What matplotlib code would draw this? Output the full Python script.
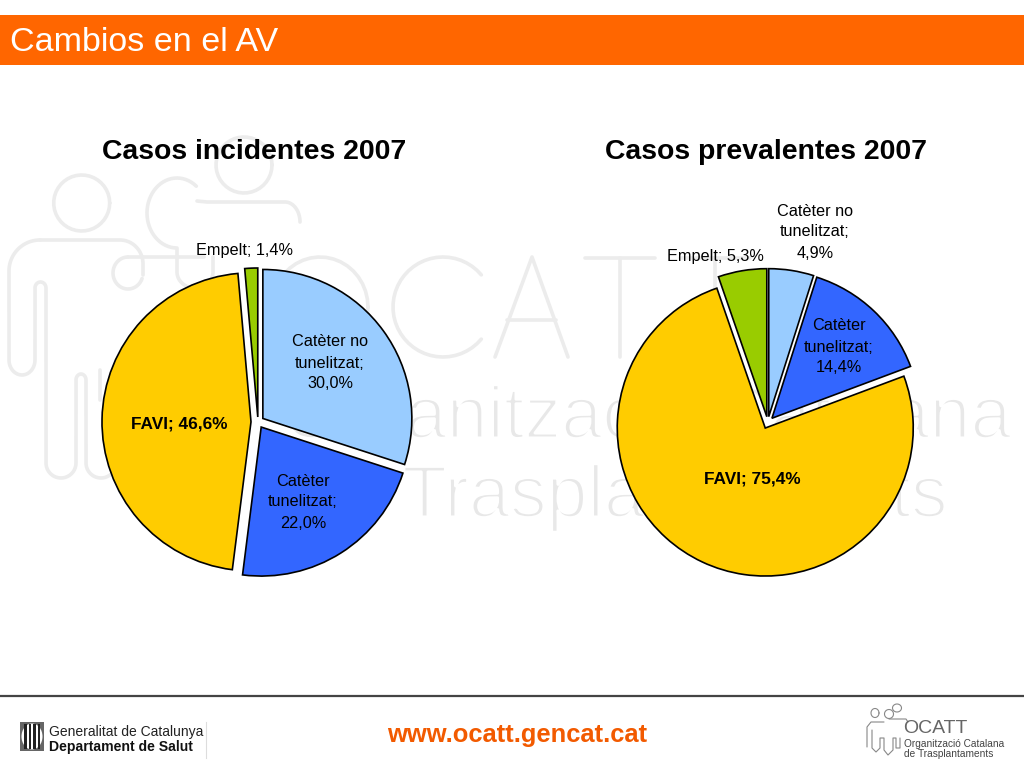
import matplotlib
matplotlib.use("Agg")
import matplotlib.pyplot as plt
from matplotlib.patches import Rectangle, Ellipse
import matplotlib.patheffects as pe
import numpy as np

plt.rcParams['font.family'] = ['Liberation Sans', 'DejaVu Sans']

# ---- data ----
categories = ["Catèter no\ntunelitzat", "Catèter\ntunelitzat", "FAVI", "Empelt"]
incidentes = [30.0, 22.0, 46.6, 1.4]
prevalentes = [4.9, 14.4, 75.4, 5.3]
title_left = "Casos incidentes 2007"
title_right = "Casos prevalentes 2007"
header = "Cambios en el AV"
url = "www.ocatt.gencat.cat"

colors = ["#99CCFF", "#3366FF", "#FFCC00", "#99CC00"]
ORANGE = "#FF6600"
WM = "#ECECEC"

fig = plt.figure(figsize=(10.24, 7.68), dpi=100, facecolor="white")
ax = fig.add_axes([0, 0, 1, 1])


def Y(y):
    return 768 - y


def fmt(v):
    return f"{v:.1f}".replace(".", ",") + "%"


def label(name, v):
    return f"{name};\n{fmt(v)}" if "\n" in name else f"{name}; {fmt(v)}"


def stroke(pts, color=WM, lw=2.6, z=0):
    ax.plot([p[0] for p in pts], [Y(p[1]) for p in pts], color=color, lw=lw, zorder=z,
            solid_capstyle="round", solid_joinstyle="round")


def arc(cx, cy, rx, ry, a0, a1, n=40):
    t = np.radians(np.linspace(a0, a1, n))
    return list(zip(cx + rx * np.cos(t), cy - ry * np.sin(t)))


# ---- faint watermark: letters ----
stroke(arc(320, 307, 48, 50, 0, 360))                  # O
stroke(arc(443, 307, 50, 50, 40, 320))                 # C
stroke([(495, 357), (532, 257), (568, 357)])           # A
stroke([(507, 320), (556, 320)])
stroke([(585, 258), (655, 258)])                       # T
stroke([(620, 258), (620, 357)])
stroke([(680, 258), (750, 258)])                       # T
stroke([(715, 258), (715, 357)])
thin = [pe.Normal(), pe.Stroke(linewidth=2.2, foreground="white")]
ax.text(1012, Y(438), "Organització Catalana", fontsize=53, color="#E8E8E8", ha="right",
        va="baseline", zorder=0, path_effects=thin)
ax.text(948, Y(517), "de Trasplantaments", fontsize=53, color="#E8E8E8", ha="right",
        va="baseline", zorder=0, path_effects=thin)

# ---- faint watermark: people ----
stroke(arc(81.7, 203, 28, 28, 0, 360))
stroke(arc(244, 165, 28, 28, 0, 360))
stroke(arc(177, 213, 30, 35, 50, 270) + [(177, 272)] + arc(195, 272, 18, 16, 180, 360)
       + [(213, 257)])
stroke([(197, 201), (207, 202), (285, 202)] + arc(285, 222, 15, 20, 90, 0))
stroke(arc(128, 273, 15, 16, 90, 340))
stroke([(128, 257), (204, 257)])
stroke([(40, 240), (120, 240)] + arc(120, 264, 23, 24, 90, 0) + [(143, 275)])
stroke(arc(40, 271, 31, 31, 90, 180) + [(9, 360)] + arc(22, 360, 13, 15, 180, 360)
       + [(35, 290)] + arc(40.5, 288, 5.5, 6, 180, 0)
       + [(46, 460)] + arc(61, 463, 15, 15, 180, 360) + [(76, 380)]
       + arc(81, 380, 5, 6, 180, 0) + [(86, 460)] + arc(101, 463, 15, 15, 180, 360))
stroke([(100, 370), (100, 400)])

# ---- pies ----
wp = dict(edgecolor="black", linewidth=1.2)
ax.pie(incidentes, colors=colors, center=(258, Y(422)), radius=149, startangle=90,
       counterclock=False, explode=[6, 6, 7, 5], wedgeprops=wp)
ax.pie(prevalentes, colors=colors, center=(767.8, Y(422.6)), radius=148, startangle=90,
       counterclock=False, explode=[6, 6, 6, 6], wedgeprops=wp)

ax.set_xlim(0, 1024)
ax.set_ylim(0, 768)
ax.set_aspect("auto")
ax.axis("off")

# ---- data labels ----
left_pos = [(330, 363), (303, 502), (179, 424), (244, 250)]
right_pos = [(815, 232), (839, 347), (752, 479), (715, 256)]
for vals, pos in ((incidentes, left_pos), (prevalentes, right_pos)):
    for name, v, (x, y) in zip(categories, vals, pos):
        is_bold = name == "FAVI"
        ax.text(x, Y(y), label(name, v), ha="center", va="center",
                fontsize=12.4 if is_bold else 11.7,
                linespacing=1.5, color="black", zorder=5,
                fontweight="bold" if is_bold else "normal")

# ---- titles ----
ax.text(254, Y(152), title_left, ha="center", va="center", fontsize=20.4, fontweight="bold")
ax.text(766, Y(152), title_right, ha="center", va="center", fontsize=20.4, fontweight="bold")

# ---- header ----
ax.add_patch(Rectangle((0, Y(65)), 1024, 50, fc=ORANGE, ec="none", zorder=1))
ax.text(10, Y(51), header, color="white", fontsize=24.5, ha="left", va="baseline", zorder=2)

# ---- footer ----
ax.plot([0, 1024], [Y(695.5), Y(695.5)], color="#444444", lw=1.6)
ax.text(387, Y(742), url, color="#F25A00", fontsize=18.4, fontweight="bold", ha="left",
        va="baseline")

# Generalitat logo
ax.add_patch(Rectangle((20, Y(751)), 24, 29, fc="#666666", ec="none"))
ax.add_patch(Ellipse((32, Y(736.5)), 21, 26, fc="white", ec="none", zorder=2))
for sx in (25.5, 30, 34.5, 39):
    ax.add_patch(Rectangle((sx - 1.2, Y(749)), 2.4, 25, fc="#222222", ec="none", zorder=3))
ax.text(49, Y(736), "Generalitat de Catalunya", fontsize=10.0, color="#222222", ha="left",
        va="baseline")
ax.text(49, Y(751), "Departament de Salut", fontsize=10.1, fontweight="bold", color="#111111",
        ha="left", va="baseline")
ax.plot([205.5, 205.5], [Y(722), Y(758)], color="#DDDDDD", lw=0.8)

# OCATT logo
GL = "#888888"
stroke(arc(875, 713, 4, 4.5, 0, 360), GL, 0.8, 2)
stroke(arc(889, 714, 4.5, 4.5, 0, 360), GL, 0.8, 2)
stroke(arc(897, 708, 4.5, 4, 0, 360), GL, 0.8, 2)
stroke([(867, 747), (867, 727), (871, 722), (884, 722)], GL, 0.8, 2)
stroke([(889, 719), (906, 719), (908, 722)], GL, 0.8, 2)
stroke([(872, 730), (872, 748), (876, 752), (880, 748), (880, 738), (884, 738), (884, 750),
        (888, 755), (893, 750), (893, 738), (896, 738), (896, 748), (900, 748), (900, 738)], GL, 0.8, 2)
ax.text(903, Y(733), "OCATT", fontsize=14, color="#666666", ha="left", va="baseline")
ax.text(904, Y(747), "Organització Catalana", fontsize=7.3, color="#444444", ha="left", va="baseline")
ax.text(904, Y(757), "de Trasplantaments", fontsize=7.3, color="#444444", ha="left", va="baseline")

fig.savefig("out.png", dpi=100, facecolor="white")
